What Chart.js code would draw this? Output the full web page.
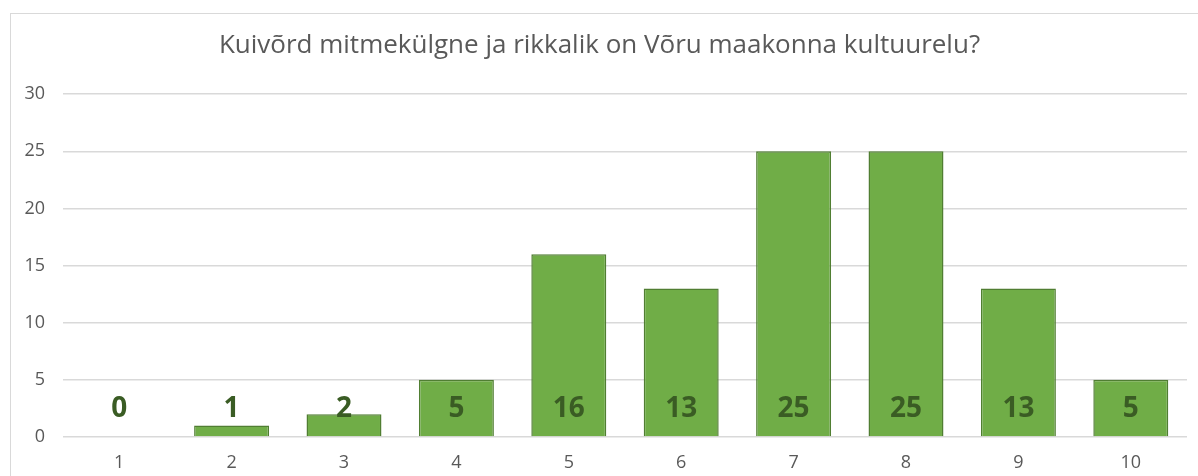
<!DOCTYPE html>
<html lang="et">
<head>
  <meta charset="UTF-8">
  <title>Kultuurelu</title>
  <script src="https://cdn.jsdelivr.net/npm/chart.js"></script>
  <style>
    body {
      margin: 0;
      background: #fff;
      font-family: "Open Sans", sans-serif;
    }
    .frame {
      position: absolute;
      left: 10px;
      top: 13px;
      width: 1200px;
      height: 480px;
      border: 1.5px solid #d9d9d9;
    }
    canvas {
      position: absolute;
      left: 0;
      top: 0;
    }
  </style>
</head>
<body>
  <div class="frame"></div>
  <canvas id="chart" width="1198" height="476"></canvas>

  <script>
    // data
    const categories = ['1', '2', '3', '4', '5', '6', '7', '8', '9', '10'];
    const answers = [0, 1, 2, 5, 16, 13, 25, 25, 13, 5];
    const yTicks = [0, 5, 10, 15, 20, 25, 30];

    const greyText = '#595959';
    Chart.defaults.font.family = "'Open Sans', sans-serif";
    Chart.defaults.font.size = 18;
    Chart.defaults.color = greyText;

    // value labels sit just above the base of each bar (Excel "inside base")
    const baseLabels = {
      id: 'baseLabels',
      afterDatasetsDraw(chart) {
        const ctx = chart.ctx;
        const meta = chart.getDatasetMeta(0);
        const base = chart.scales.y.getPixelForValue(0);
        ctx.save();
        ctx.font = "bold 28px 'Open Sans', sans-serif";
        ctx.fillStyle = '#3a5c24';
        ctx.textAlign = 'center';
        ctx.textBaseline = 'middle';
        meta.data.forEach((bar, i) => {
          ctx.fillText(String(answers[i]), bar.x, base - 28);
        });
        ctx.restore();
      }
    };

    new Chart(document.getElementById('chart'), {
      type: 'bar',
      data: {
        labels: categories,
        datasets: [{
          data: answers,
          backgroundColor: '#70ad47',
          borderColor: '#507e32',
          borderWidth: 1.5,
          categoryPercentage: 1,
          barPercentage: 0.667
        }]
      },
      options: {
        responsive: false,
        animation: false,
        layout: { padding: { left: 12, right: 11, top: 0, bottom: 0 } },
        plugins: {
          legend: { display: false },
          tooltip: { enabled: false },
          title: {
            display: true,
            text: 'Kuivõrd mitmekülgne ja rikkalik on Võru maakonna kultuurelu?',
            color: greyText,
            font: { size: 26, weight: 'normal' },
            padding: { top: 30, bottom: 33 }
          }
        },
        scales: {
          x: {
            grid: { display: false, drawTicks: false },
            border: { display: false },
            ticks: { color: greyText, padding: 15 },
            afterFit(scale) { scale.height = 39; }
          },
          y: {
            min: 0,
            max: 30,
            afterBuildTicks(scale) {
              scale.ticks = yTicks.map(v => ({ value: v }));
            },
            grid: { color: '#d9d9d9', lineWidth: 1.5, drawTicks: false },
            border: { display: false },
            ticks: { color: greyText, padding: 18 },
            afterFit(scale) { scale.width = 51; }
          }
        }
      },
      plugins: [baseLabels]
    });
  </script>
</body>
</html>
